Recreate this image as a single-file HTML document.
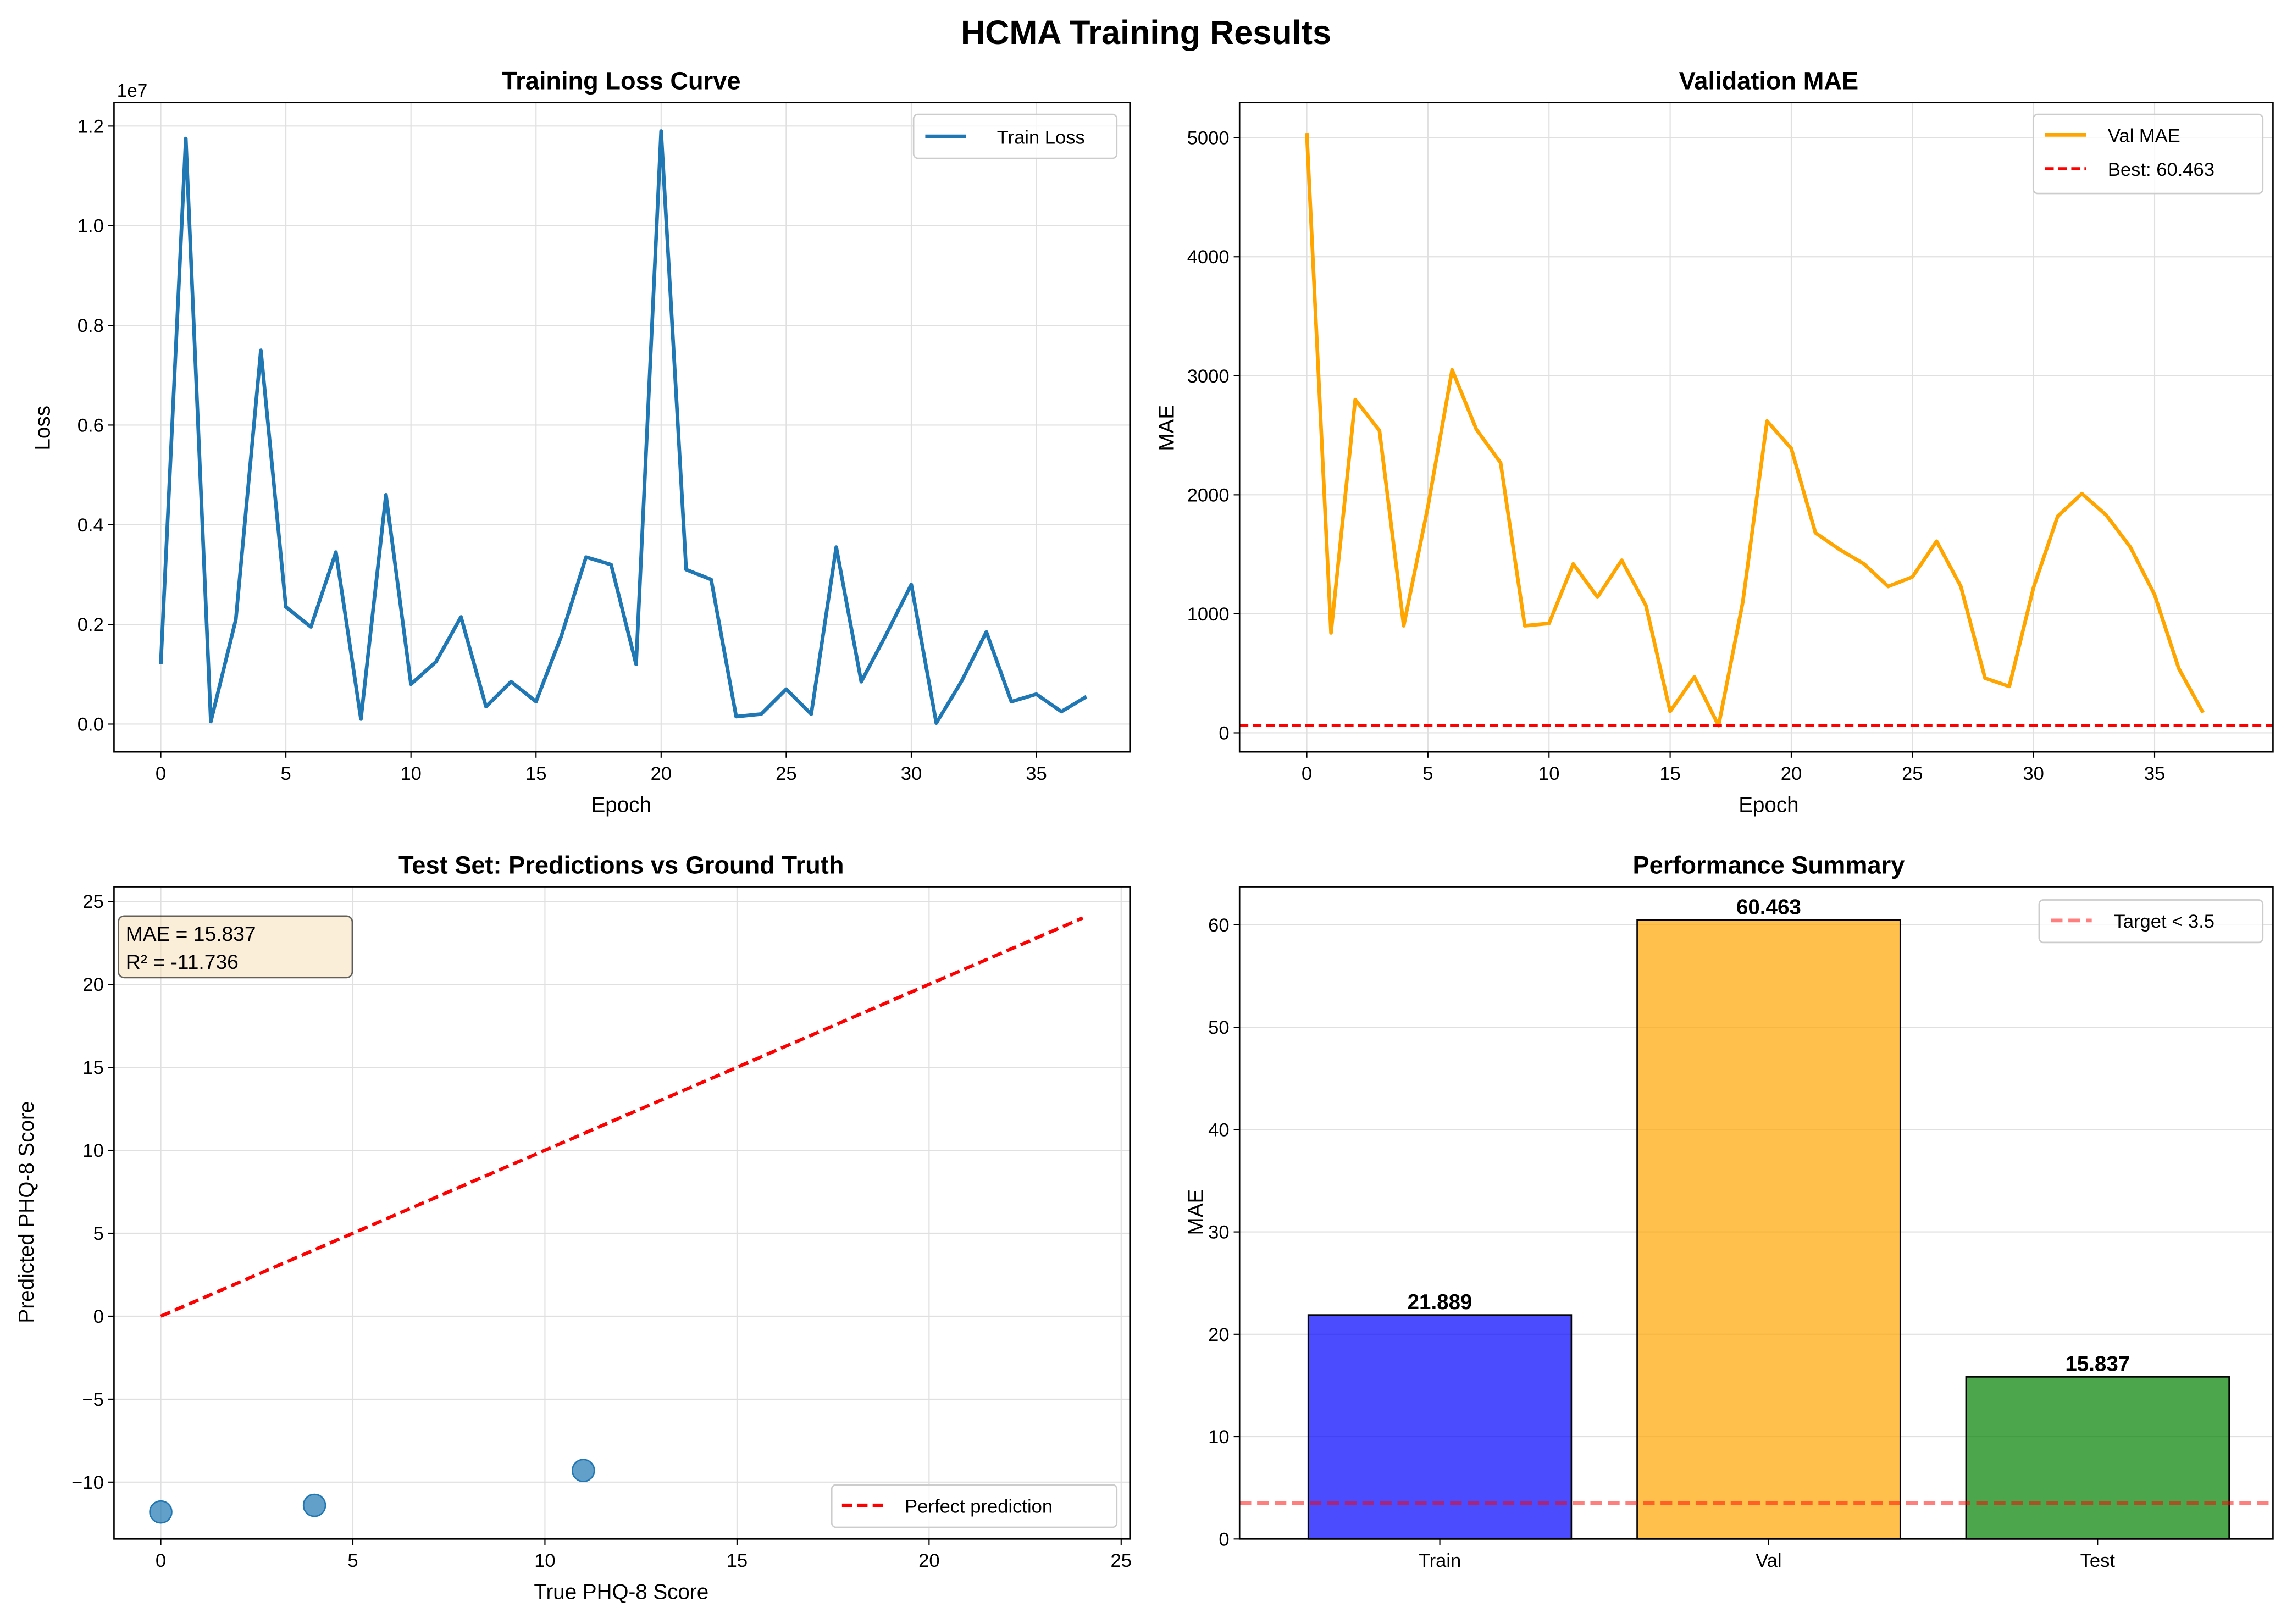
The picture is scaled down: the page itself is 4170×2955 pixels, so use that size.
<!DOCTYPE html>
<html><head><meta charset="utf-8"><style>
html,body{margin:0;padding:0;background:#fff}
svg{display:block;font-family:"Liberation Sans","DejaVu Sans",sans-serif}
</style></head><body>
<svg id="fig" width="4170" height="2955" viewBox="0 0 1568 1108" preserveAspectRatio="none" xmlns="http://www.w3.org/2000/svg">
<rect width="1568" height="1108" fill="#fff"/>
<text x="784" y="30" text-anchor="middle" font-size="23" font-weight="bold">HCMA Training Results</text>
</svg>
<script>
const epochs = [0,1,2,3,4,5,6,7,8,9,10,11,12,13,14,15,16,17,18,19,20,21,22,23,24,25,26,27,28,29,30,31,32,33,34,35,36,37];
const trainLoss = [0.12,1.175,0.005,0.21,0.75,0.235,0.195,0.345,0.01,0.46,0.08,0.125,0.215,0.035,0.085,0.045,0.175,0.335,0.32,0.12,1.19,0.31,0.29,0.015,0.02,0.07,0.02,0.355,0.085,0.18,0.28,0.002,0.085,0.185,0.045,0.06,0.025,0.055];
const valMae = [5040,840,2800,2540,900,1900,3050,2550,2270,900,920,1420,1140,1450,1070,180,470,60,1100,2620,2390,1680,1540,1420,1230,1310,1610,1230,460,390,1220,1820,2010,1830,1560,1160,540,170];
const bestVal = 60.463;
const testTrue = [0,4,11];
const testPred = [-11.8,-11.4,-9.3];
const perfectLine = [0,24];
const barCats = ["Train","Val","Test"];
const barVals = [21.889,60.463,15.837];
const barLabels = ["21.889","60.463","15.837"];
const targetVal = 3.5;
const lossTicks = [0,0.2,0.4,0.6,0.8,1.0,1.2];
const lossTickLabels = ["0.0","0.2","0.4","0.6","0.8","1.0","1.2"];
const epochTicks = [0,5,10,15,20,25,30,35];
const maeTicks = [0,1000,2000,3000,4000,5000];
const scatXTicks = [0,5,10,15,20,25];
const scatYTicks = [-10,-5,0,5,10,15,20,25];
const scatYLabels = ["\u221210","\u22125","0","5","10","15","20","25"];
const barTicks = [0,10,20,30,40,50,60];

const NS = "http://www.w3.org/2000/svg";
const svg = document.getElementById('fig');
function mk(tag, attrs, name, parent) {
  const el = document.createElementNS(NS, tag);
  for (const k in attrs) el.setAttribute(k, attrs[k]);
  
  
  (parent || svg).appendChild(el);
  return el;
}
function txt(x, y, s, size, anchor, name, extra) {
  const t = mk('text', Object.assign({x:x, y:y, 'font-size':size, 'text-anchor':anchor||'middle', fill:'#000'}, extra||{}), name);
  t.textContent = s;
  return t;
}
function lin(d0, d1, r0, r1) { return v => r0 + (v - d0) * (r1 - r0) / (d1 - d0); }

function axes(box, xs, ys, xt, xtl, yt, ytl, prefix, gridX) {
  const g = mk('g', {}, prefix + '-grid');
  if (gridX) xt.forEach(v => mk('line', {x1:xs(v), x2:xs(v), y1:box.t, y2:box.b, stroke:'#e0e0e0', 'stroke-width':0.8}, prefix + '-grid-x', g));
  yt.forEach(v => mk('line', {x1:box.l, x2:box.r, y1:ys(v), y2:ys(v), stroke:'#e0e0e0', 'stroke-width':0.8}, prefix + '-grid-y', g));
  xt.forEach((v, i) => {
    mk('line', {x1:xs(v), x2:xs(v), y1:box.b, y2:box.b + 4, stroke:'#000', 'stroke-width':0.8}, prefix + '-x-tick');
    txt(xs(v), box.b + 19, xtl[i], 13, 'middle', prefix + '-x-tick-label');
  });
  yt.forEach((v, i) => {
    mk('line', {x1:box.l - 4, x2:box.l, y1:ys(v), y2:ys(v), stroke:'#000', 'stroke-width':0.8}, prefix + '-y-tick');
    txt(box.l - 7, ys(v) + 4.5, ytl[i], 13, 'end', prefix + '-y-tick-label');
  });
}
function frame(box, prefix) {
  mk('rect', {x:box.l, y:box.t, width:box.r - box.l, height:box.b - box.t, fill:'none', stroke:'#000', 'stroke-width':1}, prefix + '-frame');
}

// Panel 1: training loss
{
  const box = {l:78, r:773, t:70, b:513};
  const xs = lin(0, 35, 110, 709), ys = lin(0, 1.2, 494, 86);
  axes(box, xs, ys, epochTicks, epochTicks.map(String), lossTicks, lossTickLabels, 'loss', true);
  const pts = epochs.map((e, i) => xs(e).toFixed(2) + ',' + ys(trainLoss[i]).toFixed(2)).join(' ');
  mk('polyline', {points:pts, fill:'none', stroke:'#1f77b4', 'stroke-width':2.5, 'stroke-linejoin':'round'}, 'train-loss-line');
  frame(box, 'loss');
  txt(425, 61, 'Training Loss Curve', 17, 'middle', 'loss-title', {'font-weight':'bold'});
  txt(425, 554, 'Epoch', 14.5, 'middle', 'loss-x-axis-title');
  txt(34, 292, 'Loss', 14.5, 'middle', 'loss-y-axis-title', {transform:'rotate(-90 34 292)'});
  txt(80, 66, '1e7', 12.5, 'start', 'loss-offset-label');
  mk('rect', {x:625, y:78, width:139, height:30, rx:3, fill:'#fff', stroke:'#ccc', 'fill-opacity':0.8}, 'loss-legend-box');
  mk('line', {x1:633, x2:661, y1:93, y2:93, stroke:'#1f77b4', 'stroke-width':2.5}, 'loss-legend-line');
  txt(682, 98, 'Train Loss', 13, 'start', 'loss-legend-label');
}

// Panel 2: validation MAE
{
  const box = {l:848, r:1555, t:70, b:513};
  const xs = lin(0, 35, 894, 1474), ys = lin(0, 5000, 500, 94);
  axes(box, xs, ys, epochTicks, epochTicks.map(String), maeTicks, maeTicks.map(String), 'val', true);
  const pts = epochs.map((e, i) => xs(e).toFixed(2) + ',' + ys(valMae[i]).toFixed(2)).join(' ');
  mk('polyline', {points:pts, fill:'none', stroke:'#ffa500', 'stroke-width':2.5, 'stroke-linejoin':'round'}, 'val-mae-line');
  mk('line', {x1:box.l, x2:box.r, y1:ys(bestVal), y2:ys(bestVal), stroke:'#ff0000', 'stroke-width':1.8, 'stroke-dasharray':'6,3'}, 'best-val-line');
  frame(box, 'val');
  txt(1210, 61, 'Validation MAE', 17, 'middle', 'val-title', {'font-weight':'bold'});
  txt(1210, 554, 'Epoch', 14.5, 'middle', 'val-x-axis-title');
  txt(803, 292, 'MAE', 14.5, 'middle', 'val-y-axis-title', {transform:'rotate(-90 803 292)'});
  mk('rect', {x:1391, y:78, width:157, height:54, rx:3, fill:'#fff', stroke:'#ccc', 'fill-opacity':0.8}, 'val-legend-box');
  mk('line', {x1:1399, x2:1427, y1:92, y2:92, stroke:'#ffa500', 'stroke-width':2.5}, 'val-legend-line');
  txt(1442, 97, 'Val MAE', 13, 'start', 'val-legend-label');
  mk('line', {x1:1399, x2:1427, y1:115, y2:115, stroke:'#ff0000', 'stroke-width':1.8, 'stroke-dasharray':'6,3'}, 'best-legend-line');
  txt(1442, 120, 'Best: ' + bestVal.toFixed(3), 13, 'start', 'best-legend-label');
}

// Panel 3: scatter
{
  const box = {l:78, r:773, t:605, b:1050};
  const xs = lin(0, 25, 110, 767), ys = lin(0, 25, 898, 615);
  axes(box, xs, ys, scatXTicks, scatXTicks.map(String), scatYTicks, scatYLabels, 'scatter', true);
  mk('line', {x1:xs(perfectLine[0]), y1:ys(perfectLine[0]), x2:xs(perfectLine[1]), y2:ys(perfectLine[1]), stroke:'#ff0000', 'stroke-width':2.3, 'stroke-dasharray':'7,3.5'}, 'perfect-prediction-line');
  testTrue.forEach((t, i) => mk('circle', {cx:xs(t), cy:ys(testPred[i]), r:7.5, fill:'#1f77b4', 'fill-opacity':0.7, stroke:'#1f77b4', 'stroke-width':1}, 'test-point'));
  frame(box, 'scatter');
  txt(425, 596, 'Test Set: Predictions vs Ground Truth', 17, 'middle', 'scatter-title', {'font-weight':'bold'});
  txt(425, 1091, 'True PHQ-8 Score', 14.5, 'middle', 'scatter-x-axis-title');
  txt(23, 827, 'Predicted PHQ-8 Score', 14.5, 'middle', 'scatter-y-axis-title', {transform:'rotate(-90 23 827)'});
  mk('rect', {x:81, y:625, width:160, height:42, rx:4, fill:'#f5deb3', 'fill-opacity':0.5, stroke:'#000', 'stroke-opacity':0.6}, 'metrics-box');
  txt(86, 642, 'MAE = 15.837', 14, 'start', 'metrics-mae');
  txt(86, 661, 'R\u00b2 = -11.736', 14, 'start', 'metrics-r2');
  mk('rect', {x:569, y:1013, width:195, height:29, rx:3, fill:'#fff', stroke:'#ccc', 'fill-opacity':0.8}, 'scatter-legend-box');
  mk('line', {x1:576, x2:604, y1:1027, y2:1027, stroke:'#ff0000', 'stroke-width':2.3, 'stroke-dasharray':'7,3.5'}, 'scatter-legend-line');
  txt(619, 1032, 'Perfect prediction', 13, 'start', 'scatter-legend-label');
}

// Panel 4: bars
{
  const box = {l:848, r:1555, t:605, b:1050};
  const ys = lin(0, 60, 1050, 631);
  const bx = i => 985 + i * 225;
  const colors = ['#0000ff', '#ffa500', '#008000'];
  axes(box, bx, ys, [], [], barTicks, barTicks.map(String), 'bar', false);
  barVals.forEach((v, i) => {
    mk('rect', {x:bx(i) - 90, y:ys(v), width:180, height:ys(0) - ys(v), fill:colors[i], 'fill-opacity':0.7, stroke:'#000', 'stroke-width':1}, 'bar-' + barCats[i].toLowerCase());
    txt(bx(i), ys(v) - 4, barLabels[i], 14.5, 'middle', 'bar-value-' + barCats[i].toLowerCase(), {'font-weight':'bold'});
    mk('line', {x1:bx(i), x2:bx(i), y1:box.b, y2:box.b + 4, stroke:'#000', 'stroke-width':0.8}, 'bar-x-tick');
    txt(bx(i), box.b + 19, barCats[i], 13, 'middle', 'bar-x-tick-label');
  });
  mk('line', {x1:box.l, x2:box.r, y1:ys(targetVal), y2:ys(targetVal), stroke:'#ff0000', 'stroke-opacity':0.5, 'stroke-width':2.5, 'stroke-dasharray':'8,4'}, 'target-line');
  frame(box, 'bar');
  txt(1210, 596, 'Performance Summary', 17, 'middle', 'bar-title', {'font-weight':'bold'});
  txt(823, 827, 'MAE', 14.5, 'middle', 'bar-y-axis-title', {transform:'rotate(-90 823 827)'});
  mk('rect', {x:1395, y:614, width:153, height:29, rx:3, fill:'#fff', stroke:'#ccc', 'fill-opacity':0.8}, 'bar-legend-box');
  mk('line', {x1:1403, x2:1431, y1:628, y2:628, stroke:'#ff0000', 'stroke-opacity':0.5, 'stroke-width':2.5, 'stroke-dasharray':'8,4'}, 'bar-legend-line');
  txt(1446, 633, 'Target < 3.5', 13, 'start', 'bar-legend-label');
}
</script>
</body></html>
